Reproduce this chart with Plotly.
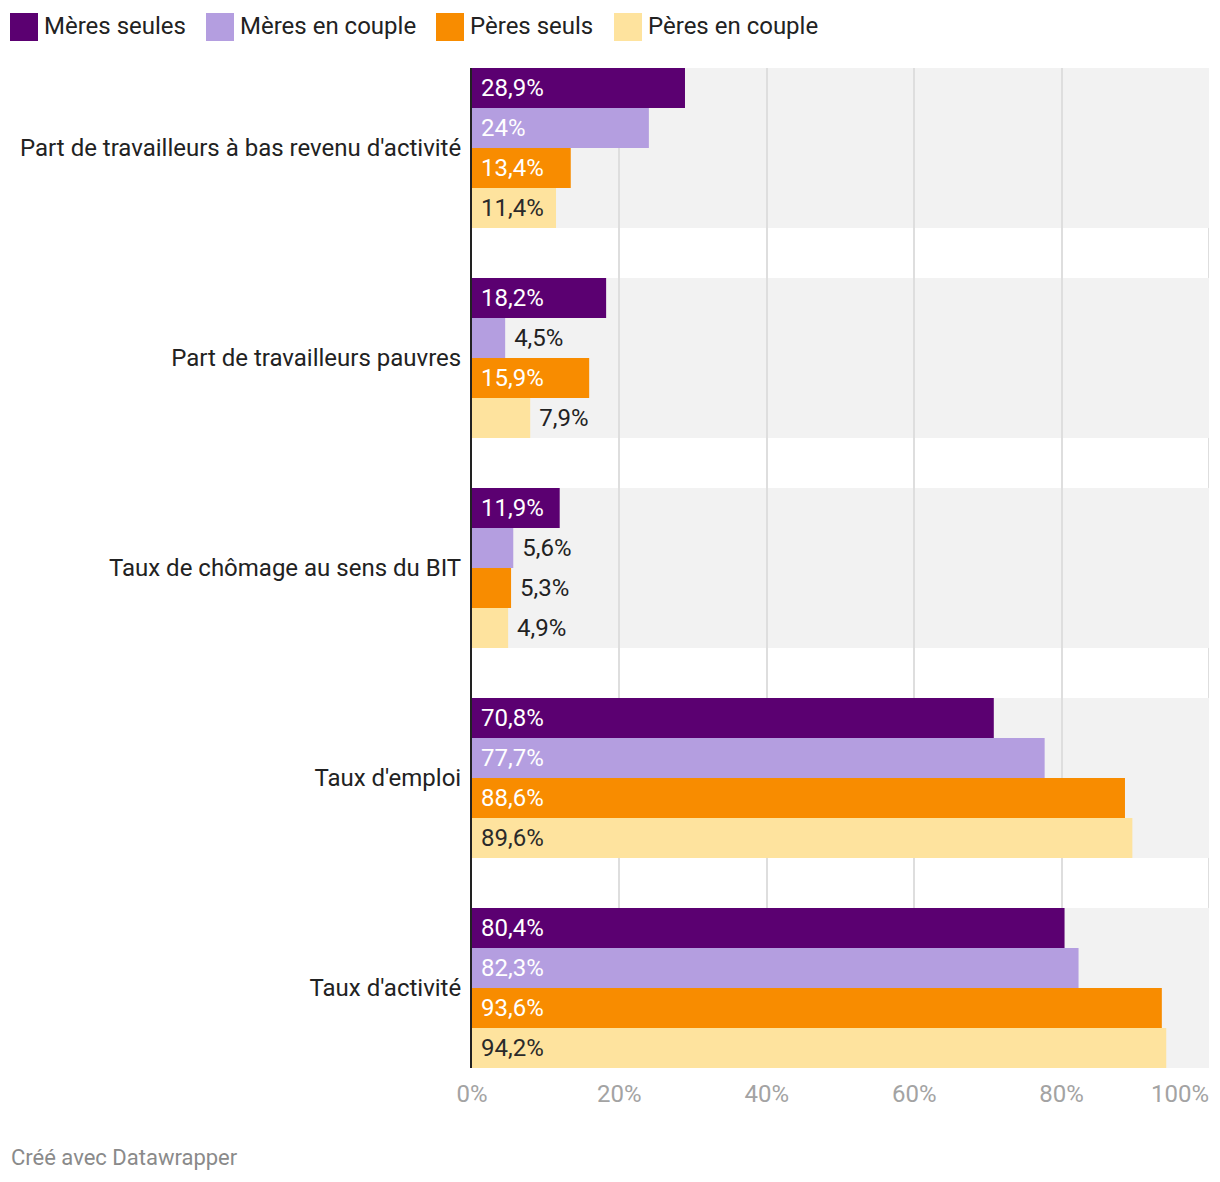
import plotly.graph_objects as go

categories = [
    "Part de travailleurs à bas revenu d'activité",
    "Part de travailleurs pauvres",
    "Taux de chômage au sens du BIT",
    "Taux d'emploi",
    "Taux d'activité",
]
series_names = ["Mères seules", "Mères en couple", "Pères seuls", "Pères en couple"]
meres_seules = [28.9, 18.2, 11.9, 70.8, 80.4]
meres_couple = [24.0, 4.5, 5.6, 77.7, 82.3]
peres_seuls = [13.4, 15.9, 5.3, 88.6, 93.6]
peres_couple = [11.4, 7.9, 4.9, 89.6, 94.2]
x_ticks = [0, 20, 40, 60, 80, 100]

series_values = [meres_seules, meres_couple, peres_seuls, peres_couple]
colors = ["#5b0071", "#b49ee0", "#f88c00", "#fee39e"]
inside_text_colors = ["#ffffff", "#ffffff", "#ffffff", "#2a2a2a"]
DARK = "#222222"
GRID = "#dedede"
TICKGREY = "#a3a3a3"
FONT = "Roboto"
FS = 24
NB = "\u00a0"

BARGAP = 50 / 210
HALF = (1 - BARGAP) / 2

# layout geometry (pixels); the page body adds an 8px offset
OFF = 8
W, H = 1204, 1166
ML, MR, MT, MB = 464, 3, 60, 106
PW, PH = W - ML - MR, H - MT - MB


def px_to_paper_x(px):
    return (px - OFF - ML) / PW


def px_to_paper_y(py):
    return (H - MB - (py - OFF)) / PH


def fmt(v):
    s = f"{v:.1f}".replace(".", ",")
    if s.endswith(",0"):
        s = s[:-2]
    return s + "%"


fig = go.Figure()

for name, vals, col, itc in zip(series_names, series_values, colors, inside_text_colors):
    fig.add_trace(go.Bar(
        y=categories,
        x=vals,
        orientation="h",
        name=name,
        marker=dict(color=col, line=dict(width=0)),
        text=[NB + fmt(v) for v in vals],
        textposition=["inside" if v >= 10 else "outside" for v in vals],
        insidetextanchor="start",
        insidetextfont=dict(color=itc, size=FS, family=FONT),
        outsidetextfont=dict(color=DARK, size=FS, family=FONT),
        constraintext="none",
        cliponaxis=False,
        showlegend=False,
        hoverinfo="skip",
    ))

# empty helper trace so that the overlay axis (last tick label) is drawn
fig.add_trace(go.Scatter(
    x=[], y=[], xaxis="x2", yaxis="y", mode="markers",
    showlegend=False, hoverinfo="skip",
))

# grey background bands behind each category group
shapes = []
for i, _ in enumerate(categories):
    shapes.append(dict(
        type="rect", xref="x", yref="y",
        x0=0, x1=100, y0=i - HALF, y1=i + HALF,
        fillcolor="#f2f2f2", line=dict(width=0), layer="below",
    ))
# gridline at the end of the range (plotly clips grid lines at range ends)
shapes.append(dict(
    type="line", xref="x", yref="paper",
    x0=x_ticks[-1], x1=x_ticks[-1], y0=0, y1=1,
    line=dict(color=GRID, width=2), layer="below",
))

# custom legend (square + label)
legend_x = [10, 206, 436, 614]
annotations = []
for name, col, lx in zip(series_names, colors, legend_x):
    shapes.append(dict(
        type="rect", xref="paper", yref="paper",
        x0=px_to_paper_x(lx), x1=px_to_paper_x(lx + 28),
        y0=px_to_paper_y(41), y1=px_to_paper_y(13),
        fillcolor=col, line=dict(width=0),
    ))
    annotations.append(dict(
        xref="paper", yref="paper",
        x=px_to_paper_x(lx + 32), y=px_to_paper_y(26),
        xanchor="left", yanchor="middle",
        text=name, showarrow=False,
        font=dict(family=FONT, size=FS, color=DARK),
    ))

annotations.append(dict(
    xref="paper", yref="paper",
    x=px_to_paper_x(9), y=px_to_paper_y(1157),
    xanchor="left", yanchor="middle",
    text="Créé avec Datawrapper", showarrow=False,
    font=dict(family=FONT, size=22, color="#8a8a8a"),
))

tick_text = [f"{t}%" for t in x_ticks]

fig.update_layout(
    width=W, height=H,
    margin=dict(l=ML, r=MR, t=MT, b=MB, autoexpand=False),
    paper_bgcolor="white", plot_bgcolor="white",
    barmode="group", bargap=BARGAP, bargroupgap=0,
    font=dict(family=FONT, size=FS, color=DARK),
    shapes=shapes, annotations=annotations,
    showlegend=False,
    xaxis=dict(
        range=[0, 100], tickvals=x_ticks[:-1], ticktext=tick_text[:-1],
        showgrid=True, gridcolor=GRID, gridwidth=2,
        zeroline=False, showline=False, ticks="",
        tickfont=dict(family=FONT, size=FS, color=TICKGREY),
        ticklabelstandoff=9,
        fixedrange=True, automargin=False,
    ),
    # last tick label, shifted left so that it stays inside the chart
    xaxis2=dict(
        overlaying="x", side="bottom", anchor="y",
        range=[0, 100], tickvals=x_ticks[-1:], ticktext=tick_text[-1:],
        showgrid=False, zeroline=False, showline=False, ticks="",
        tickfont=dict(family=FONT, size=FS, color=TICKGREY),
        ticklabelstandoff=9, ticklabelshift=-29, ticklabeloverflow="allow",
        fixedrange=True, automargin=False,
    ),
    yaxis=dict(
        range=[len(categories) - 1 + HALF, -HALF],
        showgrid=False, zeroline=False,
        showline=True, linecolor="#222222", linewidth=2,
        ticks="", ticklabelstandoff=4,
        tickfont=dict(family=FONT, size=FS, color=DARK),
        fixedrange=True, automargin=False,
    ),
)

fig.write_html("out.html", config={"displayModeBar": False})
